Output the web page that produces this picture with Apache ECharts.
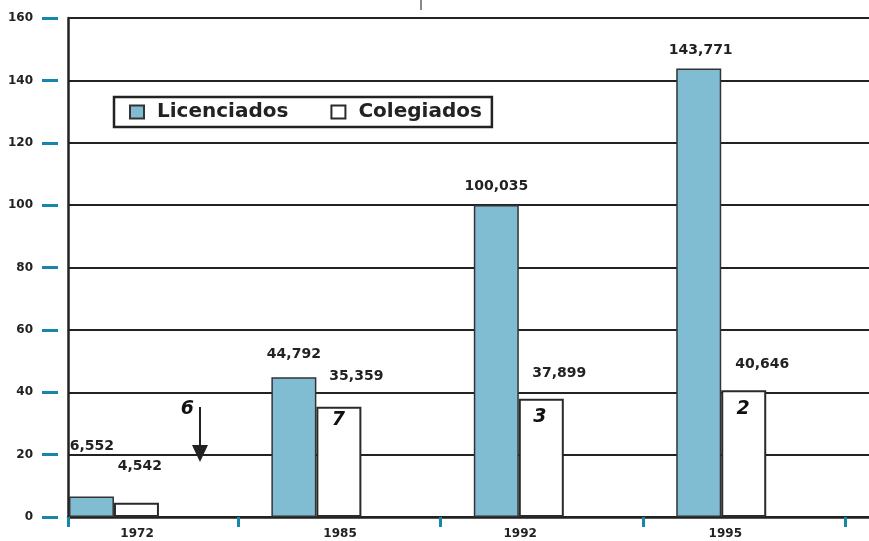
<!DOCTYPE html>
<html><head><meta charset="utf-8">
<script src="https://cdn.jsdelivr.net/npm/echarts@6/dist/echarts.min.js"></script>
<style>html,body{margin:0;padding:0;background:#fff}#c{width:869px;height:541px}</style>
</head><body><div id="c"></div>
<script>
// ---- data ----
const years = ['1972', '1985', '1992', '1995'];
const licenciados = [6.552, 44.792, 100.035, 143.771];   // thousands
const colegiados = [4.542, 35.359, 37.899, 40.646];      // thousands
const ranks = ['6', '7', '3', '2'];
const yMin = 0, yMax = 160, yStep = 20;
// x axis: categories placed at 0..3 on a value axis
const xMin = -0.227, xMax = 3.73;
const xTickValues = [-0.227, 0.613, 1.614, 2.614, 3.613];
const xLabelValues = [0.114, 1.117, 2.007, 3.02];
// arrow annotation for 1972 rank (data coords)
const arrowX = 0.425, arrowTop = 35.3, arrowHead = 20.4;

// ---- label placement (pixels) ----
const licOff = [[0.5, -50], [0, -23], [0, -19], [2, -18.5]];
const colOff = [[3.5, -36], [17.5, -30], [18, -25], [18.5, -26]];
const rankOff = [[-12, 3], [22.5, 14], [21.5, 19], [22.5, 19]];

const FONT = 'DejaVu Sans';
const INK = '#222';
const TICK = '#1786ab';
const fmt = v => Math.round(v * 1000).toLocaleString('en-US');

const chart = echarts.init(document.getElementById('c'), null, {renderer: 'canvas'});

const valueLabel = {
  show: true, position: ['50%', 0], align: 'center', verticalAlign: 'middle',
  fontFamily: FONT, fontWeight: 'bold', fontSize: 14, color: INK,
  formatter: p => fmt(p.value[1])
};

const rankData = [{value: [arrowX, arrowTop], label: {offset: rankOff[0]}}];
for (let i = 1; i < years.length; i++) {
  rankData.push({value: [i, colegiados[i]], label: {offset: rankOff[i]}});
}

chart.setOption({
  animation: false,
  grid: {left: 68, right: 0, top: 18, bottom: 24, containLabel: false},
  legend: {
    data: ['Licenciados', 'Colegiados'],
    left: 114, top: 97,
    icon: 'rect', itemWidth: 14, itemHeight: 13, itemGap: 42,
    padding: [5, 10, 5, 15],
    borderColor: INK, borderWidth: 2.5,
    textStyle: {fontFamily: FONT, fontWeight: 'bold', fontSize: 20, color: INK, padding: [0, 0, 0, 8]}
  },
  xAxis: {
    type: 'value', min: xMin, max: xMax,
    axisLine: {show: true, onZero: false, lineStyle: {color: INK, width: 2.5}},
    splitLine: {show: false},
    axisTick: {show: true, customValues: xTickValues, length: 10, lineStyle: {color: TICK, width: 3}},
    axisLabel: {
      customValues: xLabelValues, margin: 11,
      fontFamily: FONT, fontWeight: 'bold', fontSize: 12, color: INK,
      formatter: v => years[Math.round(v)]
    }
  },
  yAxis: [{
    type: 'value', min: yMin, max: yMax, interval: yStep,
    axisLine: {show: true, onZero: false, lineStyle: {color: INK, width: 2.5}},
    axisTick: {show: false},
    axisLabel: {show: false},
    splitLine: {show: true, lineStyle: {color: INK, width: 2}}
  }, {
    type: 'value', min: yMin, max: yMax, interval: yStep, position: 'left', offset: 10,
    axisLine: {show: false, onZero: false},
    axisTick: {show: true, length: 16, lineStyle: {color: TICK, width: 3}},
    axisLabel: {margin: 25, fontFamily: FONT, fontWeight: 'bold', fontSize: 12, color: INK},
    splitLine: {show: false}
  }],
  series: [{
    name: 'Licenciados', type: 'bar', barWidth: 45, barGap: '0%',
    itemStyle: {color: '#80bdd3', borderColor: '#333', borderWidth: 1.5},
    label: valueLabel,
    data: licenciados.map((v, i) => ({value: [i, v], label: {offset: licOff[i]}}))
  }, {
    name: 'Colegiados', type: 'bar', barWidth: 45, barGap: '0%',
    itemStyle: {color: '#ffffff', borderColor: '#2a2a2a', borderWidth: 2},
    label: valueLabel,
    data: colegiados.map((v, i) => ({value: [i, v], label: {offset: colOff[i]}}))
  }, {
    name: 'ranks', type: 'scatter', symbolSize: 1, silent: true,
    itemStyle: {color: 'rgba(0,0,0,0)'},
    label: {
      show: true, position: [0, 0], align: 'center', verticalAlign: 'middle',
      fontFamily: FONT, fontWeight: 'bold', fontStyle: 'italic', fontSize: 19, color: '#111',
      opacity: 1,
      formatter: p => ranks[p.dataIndex]
    },
    data: rankData,
    markLine: {
      silent: true, symbol: ['none', 'triangle'], symbolSize: [16, 17],
      lineStyle: {color: INK, width: 2, type: 'solid'},
      itemStyle: {color: INK},
      label: {show: false},
      data: [[{coord: [arrowX, arrowTop]}, {coord: [arrowX, arrowHead]}]]
    }
  }],
  graphic: [{
    type: 'line', shape: {x1: 421, y1: 0, x2: 421, y2: 10},
    style: {stroke: '#888', lineWidth: 2}
  }]
});
</script>
</body></html>
